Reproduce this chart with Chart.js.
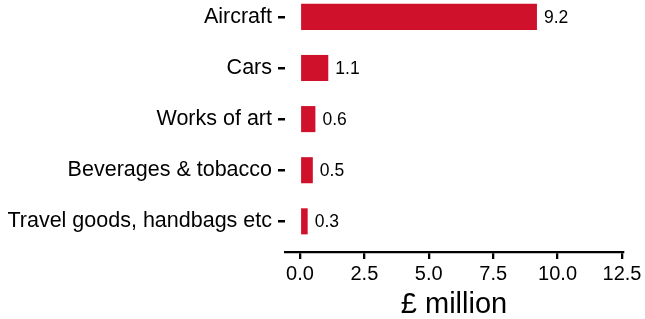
<!DOCTYPE html>
<html>
<head>
<meta charset="utf-8">
<script src="https://cdn.jsdelivr.net/npm/chart.js@4"></script>
<style>
  html, body { margin: 0; padding: 0; background: #fff; }
  #wrap { width: 645px; height: 319px; position: relative; }
</style>
</head>
<body>
<div id="wrap"><canvas id="chart"></canvas></div>
<script>
// --- data ---
const categories = ['Aircraft', 'Cars', 'Works of art', 'Beverages & tobacco', 'Travel goods, handbags etc'];
const values = [9.2, 1.1, 0.6, 0.5, 0.3];
const xTicks = [0, 2.5, 5, 7.5, 10, 12.5];
const xTitle = '£ million';

const FONT = "'Liberation Sans', Arial, sans-serif";
const INK = '#000000';
const RED = '#D0112B';

// value labels to the right of each bar
const valueLabels = {
    id: 'valueLabels',
    afterDatasetsDraw(chart) {
        const ctx = chart.ctx;
        const meta = chart.getDatasetMeta(0);
        ctx.save();
        ctx.font = `17.5px ${FONT}`;
        ctx.fillStyle = INK;
        ctx.textAlign = 'left';
        ctx.textBaseline = 'middle';
        meta.data.forEach((bar, i) => {
            ctx.fillText(values[i].toFixed(1), bar.x + 7, bar.y + 1);
        });
        ctx.restore();
    }
};

new Chart(document.getElementById('chart'), {
    type: 'bar',
    data: {
        datasets: [{
            data: values.map((v, i) => ({ x: v, y: i })),
            backgroundColor: RED,
            borderWidth: 0,
            categoryPercentage: 1,
            barPercentage: 0.51
        }]
    },
    options: {
        indexAxis: 'y',
        responsive: true,
        maintainAspectRatio: false,
        animation: false,
        layout: { padding: { top: 0, right: 22, bottom: 0, left: 0 } },
        plugins: { legend: { display: false }, tooltip: { enabled: false } },
        scales: {
            y: {
                type: 'linear',
                reverse: true,
                offset: false,
                min: -0.33,
                max: 4.6,
                afterFit: s => { s.width = 285; s.paddingTop = 0; s.paddingBottom = 0; },
                afterBuildTicks: s => { s.ticks = categories.map((c, i) => ({ value: i })); },
                border: { display: false },
                grid: { offset: false, drawOnChartArea: false, color: INK, lineWidth: 2.5, tickLength: 7 },
                ticks: {
                    callback: v => categories[v],
                    font: { family: FONT, size: 21.5 },
                    color: INK,
                    padding: 6
                }
            },
            x: {
                type: 'linear',
                min: -0.58,
                max: 12.54,
                afterFit: s => { s.height = 67; s.paddingRight = 0; },
                afterBuildTicks: s => { s.ticks = xTicks.map(v => ({ value: v })); },
                border: { display: true, color: INK, width: 2.3 },
                grid: { drawOnChartArea: false, color: INK, lineWidth: 2.3, tickLength: 7 },
                ticks: {
                    callback: v => Number(v).toFixed(1),
                    font: { family: FONT, size: 20 },
                    color: INK,
                    padding: 3,
                    maxRotation: 0
                },
                title: {
                    display: true,
                    text: xTitle,
                    font: { family: FONT, size: 29 },
                    color: INK,
                    padding: { top: 0, bottom: -3 }
                }
            }
        }
    },
    plugins: [valueLabels]
});
</script>
</body>
</html>
